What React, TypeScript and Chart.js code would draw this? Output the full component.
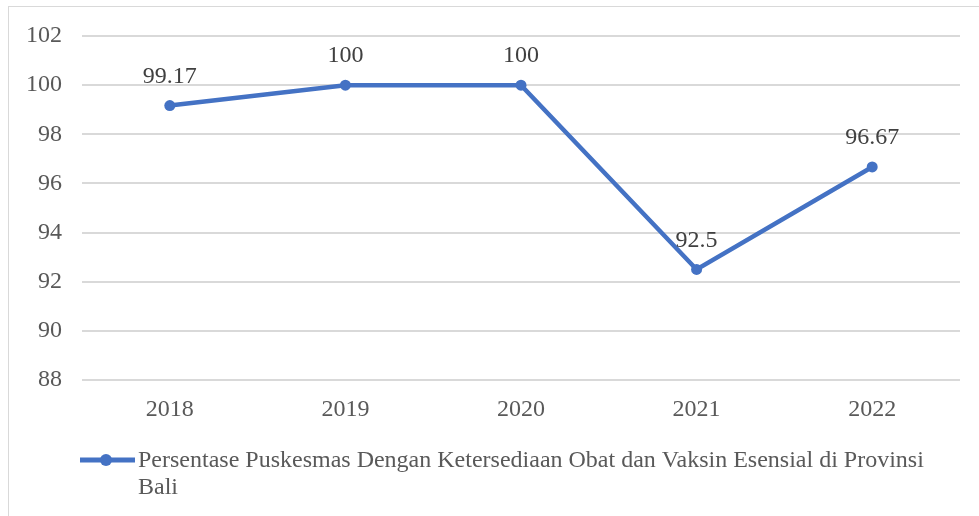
import React, { useEffect, useRef } from "react";
import { Chart, registerables } from "chart.js";

Chart.register(...registerables);

const categories = ["2018", "2019", "2020", "2021", "2022"];
const seriesValues = [99.17, 100, 100, 92.5, 96.67];
const dataLabels = ["99.17", "100", "100", "92.5", "96.67"];
const seriesName = "Persentase Puskesmas Dengan Ketersediaan Obat dan Vaksin Esensial di Provinsi";
const seriesNameLine2 = "Bali";
const yMin = 88;
const yMax = 102;
const yStep = 2;

const FONT = "'Liberation Serif', 'Times New Roman', serif";
const FONT_SIZE = 24;
const BLUE = "#4472C4";

const borderPlugin = {
  id: "outerBorder",
  beforeDraw(chart: any) {
    const ctx = chart.ctx;
    ctx.save();
    ctx.fillStyle = "#ffffff";
    ctx.fillRect(0, 0, chart.width, chart.height);
    ctx.strokeStyle = "#d9d9d9";
    ctx.lineWidth = 1;
    ctx.strokeRect(8.5, 6.5, 1200, 800);
    ctx.restore();
  },
};

const valueLabelPlugin = {
  id: "valueLabels",
  afterDatasetsDraw(chart: any) {
    const ctx = chart.ctx;
    const meta = chart.getDatasetMeta(0);
    ctx.save();
    ctx.font = `${FONT_SIZE}px ${FONT}`;
    ctx.fillStyle = "#404040";
    ctx.textAlign = "center";
    ctx.textBaseline = "middle";
    meta.data.forEach((pt: any, i: number) => {
      ctx.fillText(dataLabels[i], pt.x, pt.y - 29);
    });
    ctx.restore();
  },
};

const legendPlugin = {
  id: "customLegend",
  afterDraw(chart: any) {
    const ctx = chart.ctx;
    const y1 = 460;
    ctx.save();
    ctx.strokeStyle = BLUE;
    ctx.lineWidth = 5;
    ctx.beginPath();
    ctx.moveTo(80, y1);
    ctx.lineTo(135, y1);
    ctx.stroke();
    ctx.fillStyle = BLUE;
    ctx.beginPath();
    ctx.arc(106, y1, 6, 0, Math.PI * 2);
    ctx.fill();
    ctx.font = `${FONT_SIZE}px ${FONT}`;
    ctx.fillStyle = "#595959";
    ctx.textAlign = "left";
    ctx.textBaseline = "middle";
    ctx.fillText(seriesName, 138, y1 + 1);
    ctx.fillText(seriesNameLine2, 138, y1 + 28);
    ctx.restore();
  },
};

export default function App() {
  const canvasRef = useRef<HTMLCanvasElement | null>(null);

  useEffect(() => {
    if (!canvasRef.current) return;
    const chart = new Chart(canvasRef.current, {
      type: "line",
      data: {
        labels: categories,
        datasets: [
          {
            label: seriesName + " " + seriesNameLine2,
            data: seriesValues,
            borderColor: BLUE,
            backgroundColor: BLUE,
            borderWidth: 4.5,
            pointRadius: 5.5,
            pointHoverRadius: 5.5,
            pointBackgroundColor: BLUE,
            pointBorderWidth: 0,
            tension: 0,
            fill: false,
          },
        ],
      },
      options: {
        animation: false,
        responsive: false,
        maintainAspectRatio: false,
        layout: { padding: { top: 36, right: 19, left: 0, bottom: 0 } },
        plugins: {
          legend: { display: false },
          tooltip: { enabled: false },
        },
        scales: {
          x: {
            offset: true,
            grid: { display: false, drawTicks: false },
            border: { display: false },
            ticks: {
              color: "#595959",
              font: { family: FONT, size: FONT_SIZE },
              padding: 15,
            },
            afterFit(scale: any) {
              scale.height = 136;
            },
          },
          y: {
            min: yMin,
            max: yMax,
            grid: { color: "#d9d9d9", lineWidth: 2, drawTicks: false },
            border: { display: false },
            ticks: {
              stepSize: yStep,
              color: "#595959",
              font: { family: FONT, size: FONT_SIZE },
              padding: 20,
            },
            afterFit(scale: any) {
              scale.width = 82;
            },
          },
        },
      },
      plugins: [borderPlugin, valueLabelPlugin, legendPlugin],
    });
    return () => chart.destroy();
  }, []);

  return (
    <div style={{ position: "absolute", left: 0, top: 0, width: 979, height: 516 }}>
      <canvas ref={canvasRef} width={979} height={516} style={{ width: 979, height: 516, display: "block" }} />
    </div>
  );
}
